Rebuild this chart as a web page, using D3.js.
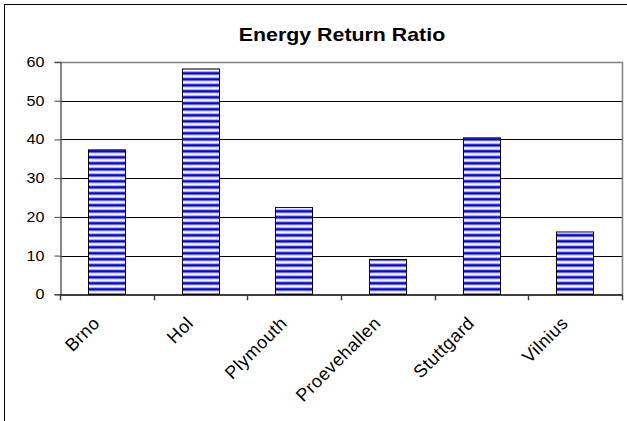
<!DOCTYPE html>
<html>
<head>
<meta charset="utf-8">
<script src="https://cdn.jsdelivr.net/npm/d3@7"></script>
<style>
  html, body { margin: 0; padding: 0; background: #fff; }
  svg { display: block; font-family: Arial, "Liberation Sans", sans-serif; }
</style>
</head>
<body>
<script>
// Energy Return Ratio per site
const categories = ["Brno", "Hol", "Plymouth", "Proevehallen", "Stuttgard", "Vilnius"];
const values = [37.3, 58.2, 22.4, 9.0, 40.4, 16.1];
const yTicks = [0, 10, 20, 30, 40, 50, 60];
const title = "Energy Return Ratio";

const W = 627, H = 421;
const plot = { left: 60, right: 622, top: 62, bottom: 294.3 };

const svg = d3.select("body").append("svg")
  .attr("width", W).attr("height", H);

// Horizontal stripe fill for the bars
const defs = svg.append("defs");
const pat = defs.append("pattern")
  .attr("id", "stripes")
  .attr("patternUnits", "userSpaceOnUse")
  .attr("width", 8).attr("height", 6)
  .attr("y", plot.bottom);
pat.append("rect").attr("width", 8).attr("height", 6).attr("fill", "#ffffff");
pat.append("rect").attr("y", 0).attr("width", 8).attr("height", 2).attr("fill", "#0000ff");
pat.append("rect").attr("y", 2).attr("width", 8).attr("height", 1).attr("fill", "#8c8cff");
pat.append("rect").attr("y", 5).attr("width", 8).attr("height", 1).attr("fill", "#8c8cff");

// Chart frame
svg.append("rect")
  .attr("x", 4.5).attr("y", 4.5)
  .attr("width", W + 10).attr("height", H + 10)
  .attr("fill", "#fff").attr("stroke", "#000").attr("stroke-width", 1);

const x = d3.scaleBand()
  .domain(categories)
  .range([plot.left, plot.right])
  .paddingInner(0.6).paddingOuter(0.3);
const xCat = d3.scaleBand().domain(categories).range([plot.left, plot.right]);

const y = d3.scaleLinear().domain([0, 60]).range([plot.bottom, plot.top]);

// Gridlines
svg.append("g").selectAll("line")
  .data(yTicks.filter(t => t > 0 && t < 60))
  .join("line")
  .attr("x1", plot.left).attr("x2", plot.right)
  .attr("y1", d => Math.round(y(d)) + 0.5).attr("y2", d => Math.round(y(d)) + 0.5)
  .attr("stroke", "#000").attr("stroke-width", 1);

// Plot area border (top and right)
svg.append("path")
  .attr("d", `M${plot.left},${Math.round(plot.top) + 0.5}H${plot.right + 0.5}V${plot.bottom}`)
  .attr("fill", "none").attr("stroke", "#808080").attr("stroke-width", 1.5);

// Bars
svg.append("g").selectAll("rect")
  .data(categories.map((c, i) => ({ c, v: values[i] })))
  .join("rect")
  .attr("x", d => Math.round(x(d.c)) + 0.5)
  .attr("width", Math.round(x.bandwidth()))
  .attr("y", d => y(d.v))
  .attr("height", d => plot.bottom - y(d.v))
  .attr("fill", "url(#stripes)")
  .attr("stroke", "#000").attr("stroke-width", 1);

// Y axis
const yAxis = svg.append("g")
  .attr("transform", `translate(${plot.left + 0.5},0)`)
  .call(d3.axisLeft(y).tickValues(yTicks).tickSize(6).tickPadding(9).tickFormat(d3.format("d")));
yAxis.select(".domain").attr("stroke", "#606060").attr("stroke-width", 1.5);
yAxis.selectAll(".tick line").attr("stroke", "#404040");
yAxis.selectAll("text")
  .attr("x", 0)
  .attr("transform", `translate(-16,0) scale(1.15,1)`)
  .attr("font-size", 14).attr("fill", "#000");

// X axis
const xAxis = svg.append("g")
  .attr("transform", `translate(0,${Math.round(plot.bottom) + 0.5})`)
  .call(d3.axisBottom(xCat).tickSize(0).tickFormat(""));
xAxis.select(".domain").attr("stroke", "#000").attr("stroke-width", 1.5);
xAxis.selectAll(".tick").remove();

// Category boundary ticks
svg.append("g").selectAll("line")
  .data(categories.map(c => xCat(c)).concat([plot.right]))
  .join("line")
  .attr("x1", d => Math.round(d) + 0.5).attr("x2", d => Math.round(d) + 0.5)
  .attr("y1", plot.bottom).attr("y2", plot.bottom + 6)
  .attr("stroke", "#404040").attr("stroke-width", 1.5);

// Rotated category labels (baseline ends just left of each category centre)
svg.append("g").selectAll("text")
  .data(categories)
  .join("text")
  .attr("transform", d => `translate(${xCat(d) + xCat.bandwidth() / 2 - 6},${plot.bottom + 30}) rotate(-45)`)
  .attr("text-anchor", "end")
  .attr("font-size", 18)
  .attr("letter-spacing", 0.5)
  .attr("fill", "#000")
  .text(d => d);

// Title
svg.append("text")
  .attr("transform", `translate(342,40.5) scale(1.22,1)`)
  .attr("text-anchor", "middle")
  .attr("font-size", 17.5).attr("font-weight", "bold")
  .text(title);
</script>
</body>
</html>
